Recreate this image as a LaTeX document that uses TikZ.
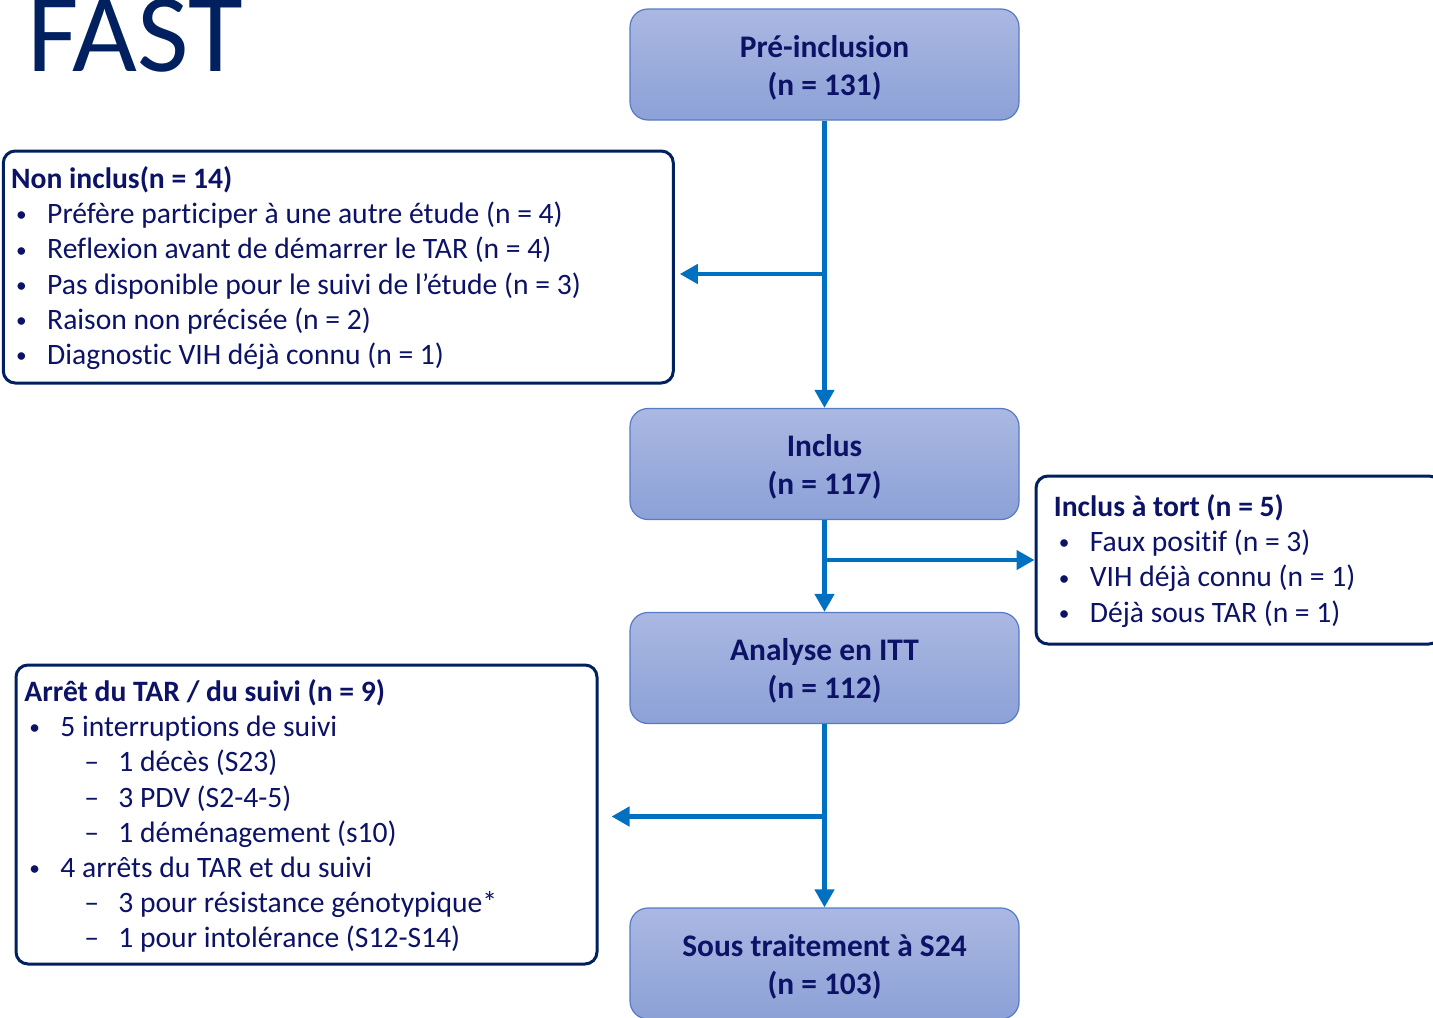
\documentclass[tikz,border=0pt]{standalone}
\usepackage{fontspec}
\setmainfont[Ligatures=NoCommon]{Carlito}
\usetikzlibrary{arrows.meta,positioning}

\definecolor{navy}{RGB}{12,18,102}
\definecolor{titleblue}{RGB}{0,32,96}
\definecolor{flowblue}{RGB}{0,112,192}
\definecolor{boxtop}{RGB}{170,184,226}
\definecolor{boxbot}{RGB}{140,161,215}
\definecolor{boxedge}{RGB}{86,122,198}

% list lines inside the white boxes
\newcommand{\smallbul}{\raisebox{0.9pt}{\scalebox{0.72}{•}}}
\newcommand{\bulitm}[1]{\hspace*{2.5pt}\makebox[15.5pt][l]{\smallbul}#1}
\newcommand{\subitm}[1]{\hspace*{30pt}\makebox[17pt][l]{–}#1}
% two centred lines of a stage box
\newcommand{\stagetext}[2]{\rule{0pt}{16.5pt}#1\\#2\rule[-5pt]{0pt}{5pt}}

\tikzset{
  stage/.style={draw=boxedge, line width=0.6pt, rounded corners=9pt,
    top color=boxtop, bottom color=boxbot,
    minimum width=194.5pt, minimum height=55.5pt, align=center,
    font=\bfseries\fontsize{15.7}{19}\selectfont, text=navy},
  reasonbox/.style={draw=titleblue, line width=1.5pt, rounded corners=6pt,
    fill=white, anchor=north west, inner sep=0pt},
  reasontext/.style={anchor=north west, inner sep=0pt, align=left,
    font=\fontsize{14.8}{17.6}\selectfont, text=navy},
  flow/.style={draw=flowblue, line width=2.2pt},
  flowarrow/.style={flow, -{Triangle[length=9pt,width=9.5pt]}},
}

\begin{document}
\begin{tikzpicture}[x=0.5pt,y=-0.5pt]
\useasboundingbox (0,0) rectangle (1433,1017);

\node[anchor=base west, inner sep=0pt, text=titleblue,
  font=\fontsize{56}{56}\selectfont] (title) at (27,71) {FAST};

% main flow
\node[stage] (pre) at (824.5,64.5) {\stagetext{Pré-inclusion}{(n = 131)}};
\node[stage] (incl) at (824.5,464) {\stagetext{Inclus}{(n = 117)}};
\node[stage] (itt) at (824.5,668) {\stagetext{Analyse en ITT}{(n = 112)}};
\node[stage] (s24) at (824.5,963.5) {\stagetext{Sous traitement à S24}{(n = 103)}};

% side boxes
\node[reasonbox, minimum width=335pt, minimum height=116pt] (nonincl) at (1.8,149.5) {};
\node[reasontext] (noninclTxt) at ([xshift=4.5pt,yshift=-7pt]nonincl.north west) {%
  \strut\textbf{Non inclus(n = 14)}\\
  \bulitm{Préfère participer à une autre étude (n = 4)}\\
  \bulitm{Reflexion avant de démarrer le TAR (n = 4)}\\
  \bulitm{Pas disponible pour le suivi de l’étude (n = 3)}\\
  \bulitm{Raison non précisée (n = 2)}\\
  \bulitm{Diagnostic VIH déjà connu (n = 1)}};

\node[reasonbox, minimum width=202.5pt, minimum height=84pt] (tort) at (1034.5,474.5) {};
\node[reasontext] (tortTxt) at ([xshift=9.5pt,yshift=-8.5pt]tort.north west) {%
  \strut\textbf{Inclus à tort (n = 5)}\\
  \bulitm{Faux positif (n = 3)}\\
  \bulitm{VIH déjà connu (n = 1)}\\
  \bulitm{Déjà sous TAR (n = 1)}};

\node[reasonbox, minimum width=290.5pt, minimum height=149.5pt] (arret) at (14.5,663.5) {};
\node[reasontext] (arretTxt) at ([xshift=4.75pt,yshift=-6.5pt]arret.north west) {%
  \strut\textbf{Arrêt du TAR / du suivi (n = 9)}\\
  \bulitm{5 interruptions de suivi}\\
  \subitm{1 décès (S23)}\\
  \subitm{3 PDV (S2-4-5)}\\
  \subitm{1 déménagement (s10)}\\
  \bulitm{4 arrêts du TAR et du suivi}\\
  \subitm{3 pour résistance génotypique*}\\
  \subitm{1 pour intolérance (S12-S14)}};

% connectors
\coordinate (nonin) at ([xshift=2.5pt,yshift=-3.5pt]nonincl.east);
\coordinate (arretin) at ([xshift=6.5pt,yshift=-1pt]arret.east);
\draw[flowarrow] (pre.south) -- (incl.north);
\draw[flowarrow] (pre.south |- nonin) -- (nonin);
\draw[flowarrow] (incl.south) -- (itt.north);
\draw[flowarrow] (incl.south |- tort.west) -- (tort.west);
\draw[flowarrow] (itt.south) -- (s24.north);
\draw[flowarrow] (itt.south |- arretin) -- (arretin);
\end{tikzpicture}
\end{document}
